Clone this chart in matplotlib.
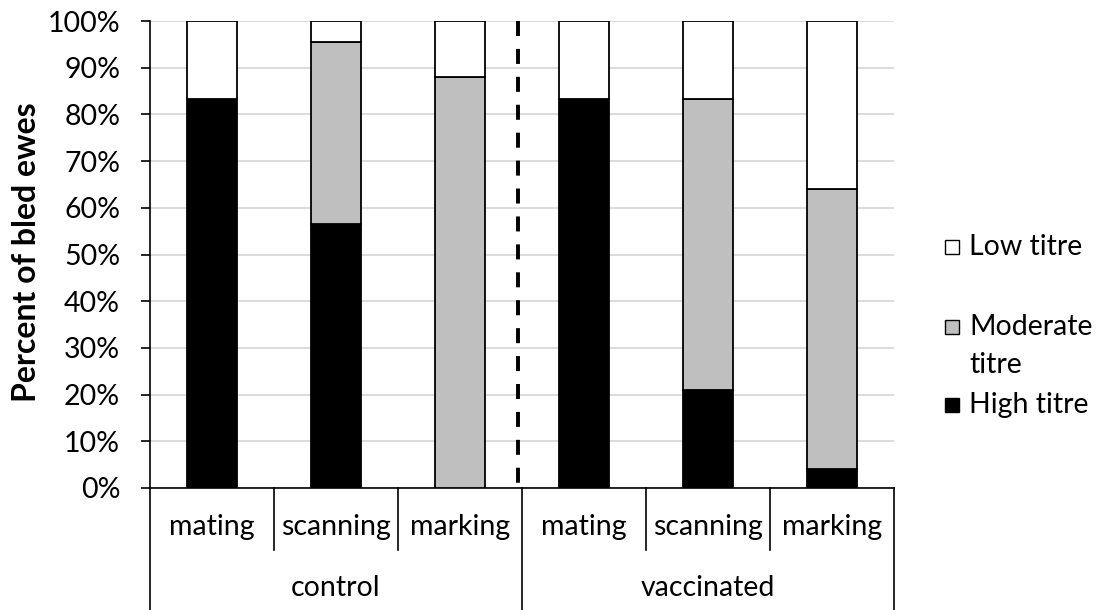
import matplotlib.pyplot as plt
from matplotlib.patches import Rectangle
import numpy as np

plt.rcParams['font.family'] = ['Lato', 'DejaVu Sans']

groups = ['control', 'vaccinated']
stages = ['mating', 'scanning', 'marking']
high = [83.3, 56.5, 0.0, 83.3, 21.0, 4.1]
moderate = [0.0, 39.1, 88.0, 0.0, 62.3, 59.9]
low = [16.7, 4.4, 12.0, 16.7, 16.7, 36.0]
series_names = ['Low titre', 'Moderate\ntitre', 'High titre']
series_colors = ['white', '#bfbfbf', 'black']
yticks = np.arange(0, 101, 10)

FS = 20.5
W, H = 1110, 610
fig = plt.figure(figsize=(W / 100, H / 100), dpi=100)
x0, x1, ytop, ybot = 150, 894, 21, 488
ax = fig.add_axes([x0 / W, (H - ybot) / H, (x1 - x0) / W, (ybot - ytop) / H])

x = np.arange(len(high))
bw = 0.41
ax.bar(x, high, bw, color='black', edgecolor='black', linewidth=1.3, zorder=3)
ax.bar(x, moderate, bw, bottom=high, color='#bfbfbf', edgecolor='black', linewidth=1.3, zorder=3)
ax.bar(x, low, bw, bottom=np.array(high) + np.array(moderate), color='white',
       edgecolor='black', linewidth=1.3, zorder=3)

ax.set_xlim(-0.5, len(high) - 0.5)
ax.set_ylim(0, 100)
ax.set_yticks(yticks)
ax.set_yticklabels([f'{t}%' for t in yticks], fontsize=FS)
ax.tick_params(axis='y', length=6.5, width=1.2, pad=15)
ax.set_xticks([])
ax.grid(axis='y', color='#d9d9d9', linewidth=1.3, zorder=0)
for s in ['top', 'right']:
    ax.spines[s].set_visible(False)
ax.spines['left'].set_linewidth(1.2)
ax.spines['bottom'].set_linewidth(1.2)

fig.text(27 / W, (H - 252) / H, 'Percent of bled ewes', rotation=90, ha='center', va='center',
         fontsize=23, fontweight='bold')

# dashed separator between groups, drawn top-down so dashes start at 100%
ax.plot([2.47, 2.47], [100, 1.07], color='black', linestyle=(0, (3.86, 3.32)), linewidth=2.8, zorder=4)

# category axis lines below the plot
tr = ax.get_xaxis_transform()
ph = ybot - ytop
y_small = -(550 - ybot) / ph
y_big = -(610 - ybot) / ph
for i in range(len(high) + 1):
    edge = i - 0.5
    ylow = y_big if i % 3 == 0 else y_small
    ax.plot([edge, edge], [0, ylow], transform=tr, color='black', lw=1.2, clip_on=False)

for i in range(len(high)):
    ax.text(i, -(527 - ybot) / ph, stages[i % 3], transform=tr, ha='center', va='center', fontsize=FS)
for g, name in enumerate(groups):
    ax.text(g * 3 + 1, -(588 - ybot) / ph, name, transform=tr, ha='center', va='center', fontsize=FS)

# legend drawn by hand
leg_y = [247, 327, 405]
for yy, lab, col in zip(leg_y, series_names, series_colors):
    fig.patches.append(Rectangle((945 / W, (H - yy - 7) / H), 14 / W, 14 / H, transform=fig.transFigure,
                                 facecolor=col, edgecolor='black', linewidth=1))
    for k, line in enumerate(lab.split('\n')):
        fig.text(969 / W, (H - yy - 38 * k) / H, line, ha='left', va='center', fontsize=FS)

fig.savefig('out.png', dpi=100)
